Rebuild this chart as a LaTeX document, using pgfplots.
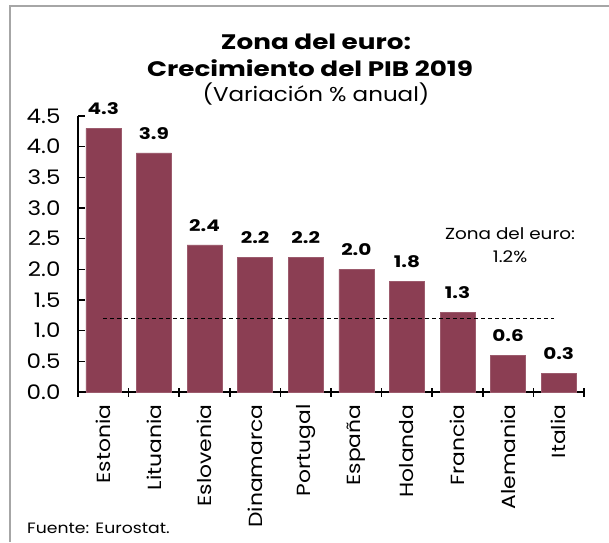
\documentclass[border=0pt]{standalone}
\usepackage{fontspec}
\setmainfont{Poppins}[FakeStretch=1.15, BoldFeatures={FakeStretch=1.25}]
\usepackage{pgfplots}
\pgfplotsset{compat=1.18}
\definecolor{barc}{RGB}{139,62,83}
\begin{document}
\begin{tikzpicture}[x=1pt,y=1pt]
\path[use as bounding box] (0,0) rectangle (609,542);
\draw[gray!70, line width=1.2pt] (10,0) -- (10,536) -- (609,536);
\node[anchor=base, font=\bfseries\fontsize{21}{24}\selectfont, inner sep=0pt] at (316,492) {Zona del euro:};
\node[anchor=base, font=\bfseries\fontsize{21}{24}\selectfont, inner sep=0pt] at (310,465.5) {Crecimiento del PIB 2019};
\node[anchor=base, font=\fontsize{20}{24}\selectfont, inner sep=0pt] at (316,440.5) {(Variación \% anual)};
\node[anchor=base west, font=\fontsize{15}{17}\selectfont, inner sep=0pt] at (27,9) {Fuente: Eurostat.};
\begin{axis}[
  at={(78pt,150pt)}, anchor=south west,
  scale only axis, width=506pt, height=276pt,
  xmin=-0.5, xmax=9.5, ymin=0, ymax=4.5,
  axis x line=bottom, axis y line=left,
  axis line style={line width=1.5pt, -},
  /pgf/number format/assume math mode=true,
  ytick={0,0.5,1,1.5,2,2.5,3,3.5,4,4.5},
  yticklabel style={/pgf/number format/fixed, /pgf/number format/fixed zerofill, /pgf/number format/precision=1, font=\fontsize{20}{20}\selectfont, xshift=-14pt},
  ytick style={line width=1.5pt, black},
  tick align=inside,
  major tick length=7pt,
  xtick={0,1,2,3,4,5,6,7,8,9},
  xticklabels={Estonia,Lituania,Eslovenia,Dinamarca,Portugal,España,Holanda,Francia,Alemania,Italia},
  x tick style={draw=none},
  xticklabel style={rotate=90, anchor=east, font=\fontsize{19}{19}\selectfont},
  xticklabel shift=9pt,
  clip=false,
]
\addplot[ybar, bar width=35pt, fill=barc, draw=barc!85!white, line width=0.5pt,
  nodes near coords,
  nodes near coords style={font=\bfseries\fontsize{16}{16}\selectfont, yshift=10pt,
    /pgf/number format/fixed, /pgf/number format/fixed zerofill, /pgf/number format/precision=1}]
  coordinates {(0,4.3) (1,3.9) (2,2.4) (3,2.2) (4,2.2) (5,2.0) (6,1.8) (7,1.3) (8,0.6) (9,0.3)};
\addplot[black, line width=0.8pt, dash pattern=on 4pt off 3pt] coordinates {(0,1.2) (8.9,1.2)};
\node[align=center, font=\fontsize{16}{23}\selectfont] at (axis cs:8.04,2.40) {Zona del euro:\\1.2\%};
\pgfplotsinvokeforeach{-0.5,0.5,1.5,2.5,3.5,4.5,5.5,6.5,7.5,8.5,9.5}{
  \draw[line width=1.5pt] ([yshift=-4.5pt]axis cs:#1,0) -- ([yshift=4.5pt]axis cs:#1,0);
}
\end{axis}
\end{tikzpicture}
\end{document}
